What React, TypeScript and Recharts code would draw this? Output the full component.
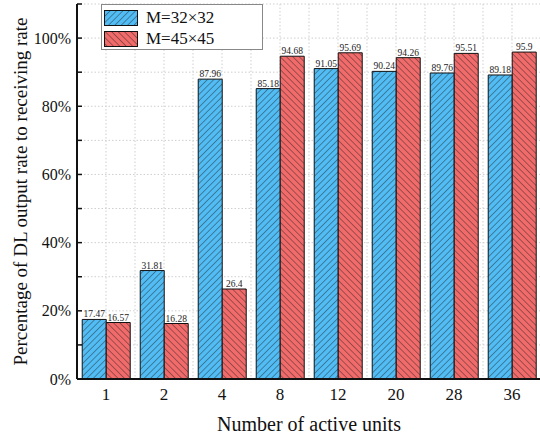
import React from 'react';
import { BarChart, Bar, XAxis, YAxis, CartesianGrid, LabelList } from 'recharts';

const categories = ['1', '2', '4', '8', '12', '20', '28', '36'];
const seriesA = [17.47, 31.81, 87.96, 85.18, 91.05, 90.24, 89.76, 89.18];
const seriesB = [16.57, 16.28, 26.4, 94.68, 95.69, 94.26, 95.51, 95.9];
const seriesNames = ['M=32×32', 'M=45×45'];
const yTicks = [0, 10, 20, 30, 40, 50, 60, 70, 80, 90, 100, 110];
const centerTicks = [0.5, 1.5, 2.5, 3.5, 4.5, 5.5, 6.5, 7.5];
const boundaryTicks = [1, 2, 3, 4, 5, 6, 7];
const halfBands = categories.length * 2;

const data = categories.map((c, i) => ({ cat: c, a: seriesA[i], b: seriesB[i] }));

const FONT = 'Liberation Serif, Times New Roman, serif';
const BLUE = '#52BDF5';
const RED = '#F26B6B';

const EmptyTick = () => <g />;

const Patterns = () => (
  <svg width={0} height={0} style={{ position: 'absolute' }}>
    <defs>
      <pattern id="hatchBlue" patternUnits="userSpaceOnUse" width={4.5} height={4.5} patternTransform="rotate(45)">
        <rect width={4.5} height={4.5} fill={BLUE} />
        <line x1={0} y1={0} x2={0} y2={4.5} stroke="#1a1a1a" strokeWidth={0.8} />
      </pattern>
      <pattern id="hatchRed" patternUnits="userSpaceOnUse" width={4.5} height={4.5} patternTransform="rotate(-45)">
        <rect width={4.5} height={4.5} fill={RED} />
        <line x1={0} y1={0} x2={0} y2={4.5} stroke="#1a1a1a" strokeWidth={0.8} />
      </pattern>
    </defs>
  </svg>
);

const LegendBox = () => (
  <div
    style={{
      position: 'absolute',
      left: 101,
      top: 4,
      border: '1px solid #888',
      background: '#fff',
      width: 162,
      height: 46,
      boxSizing: 'border-box',
      padding: '3px 0 0 2px',
      fontFamily: FONT,
      fontSize: 17,
      color: '#111',
    }}
  >
    {seriesNames.map((n, i) => (
      <div key={n} style={{ display: 'flex', alignItems: 'center', height: 20, marginBottom: i === 0 ? 1 : 0 }}>
        <svg width={34} height={16} style={{ display: 'block' }}>
          <rect x={0.5} y={0.5} width={33} height={15} fill={i === 0 ? 'url(#hatchBlue)' : 'url(#hatchRed)'} stroke="#111" strokeWidth={1} />
        </svg>
        <span style={{ marginLeft: 8, lineHeight: '20px' }}>{n}</span>
      </div>
    ))}
  </div>
);

const verticalGrid = ({ offset }: any) => {
  const pts: number[] = [];
  for (let k = 0; k <= halfBands; k++) pts.push(offset.left + (offset.width * k) / halfBands);
  return pts;
};

export default function App() {
  return (
    <div style={{ position: 'absolute', left: 0, top: 0, width: 540, height: 439, overflow: 'hidden', background: '#fff' }}>
      <Patterns />
      <BarChart
        width={548}
        height={439}
        data={data}
        margin={{ top: 4, right: 7, left: 0, bottom: 0 }}
        barCategoryGap="9%"
        barGap={0}
        style={{ fontFamily: FONT }}
      >
        <CartesianGrid xAxisId="main" yAxisId="main" stroke="#cfcfcf" strokeDasharray="1.5 2" vertical horizontal verticalCoordinatesGenerator={verticalGrid} />
        <XAxis
          dataKey="cat"
          xAxisId="main"
          height={60}
          axisLine={{ stroke: '#111', strokeWidth: 2 }}
          tickLine={false}
          tickSize={0}
          tickMargin={9}
          tick={{ fill: '#111', fontSize: 17, fontFamily: FONT }}
          label={{ value: 'Number of active units', position: 'insideBottom', offset: 8, style: { fill: '#111', fontSize: 20, fontFamily: FONT } }}
        />
        <XAxis xAxisId="bottomMinor" type="number" domain={[0, 8]} ticks={boundaryTicks} allowDataOverflow mirror height={0} axisLine={false} tickLine={{ stroke: '#111', strokeWidth: 1.5 }} tickSize={4} tick={EmptyTick} />
        <XAxis xAxisId="topMajor" orientation="top" type="number" domain={[0, 8]} ticks={centerTicks} allowDataOverflow mirror height={0} axisLine={{ stroke: '#111', strokeWidth: 2 }} tickLine={{ stroke: '#111', strokeWidth: 1.5 }} tickSize={7} tick={EmptyTick} />
        <XAxis xAxisId="topMinor" orientation="top" type="number" domain={[0, 8]} ticks={boundaryTicks} allowDataOverflow mirror height={0} axisLine={false} tickLine={{ stroke: '#111', strokeWidth: 1.5 }} tickSize={4} tick={EmptyTick} />
        <YAxis
          yAxisId="main"
          width={77}
          domain={[0, 110]}
          ticks={yTicks}
          allowDataOverflow
          tickFormatter={(v: number) => (v % 20 === 0 && v <= 100 ? `${v}%` : '')}
          axisLine={{ stroke: '#111', strokeWidth: 2 }}
          tickLine={{ stroke: '#111', strokeWidth: 1.5 }}
          tickSize={-5}
          tickMargin={11}
          tick={{ fill: '#111', fontSize: 16, fontFamily: FONT }}
          label={{ value: 'Percentage of DL output rate to receiving rate', angle: -90, position: 'insideLeft', offset: 20, style: { textAnchor: 'middle', fill: '#111', fontSize: 19, fontFamily: FONT } }}
        />
        <YAxis yAxisId="right" orientation="right" domain={[0, 110]} ticks={yTicks} allowDataOverflow mirror width={0} axisLine={{ stroke: '#111', strokeWidth: 2 }} tickLine={{ stroke: '#111', strokeWidth: 1.5 }} tickSize={5} tick={EmptyTick} />
        <Bar xAxisId="main" yAxisId="main" dataKey="a" name={seriesNames[0]} fill="url(#hatchBlue)" stroke="#111" strokeWidth={1} isAnimationActive={false}>
          <LabelList dataKey="a" position="top" offset={2} style={{ fill: '#222', fontSize: 9.5, fontFamily: FONT }} />
        </Bar>
        <Bar xAxisId="main" yAxisId="main" dataKey="b" name={seriesNames[1]} fill="url(#hatchRed)" stroke="#111" strokeWidth={1} isAnimationActive={false}>
          <LabelList dataKey="b" position="top" offset={2} style={{ fill: '#222', fontSize: 9.5, fontFamily: FONT }} />
        </Bar>
      </BarChart>
      <LegendBox />
    </div>
  );
}
